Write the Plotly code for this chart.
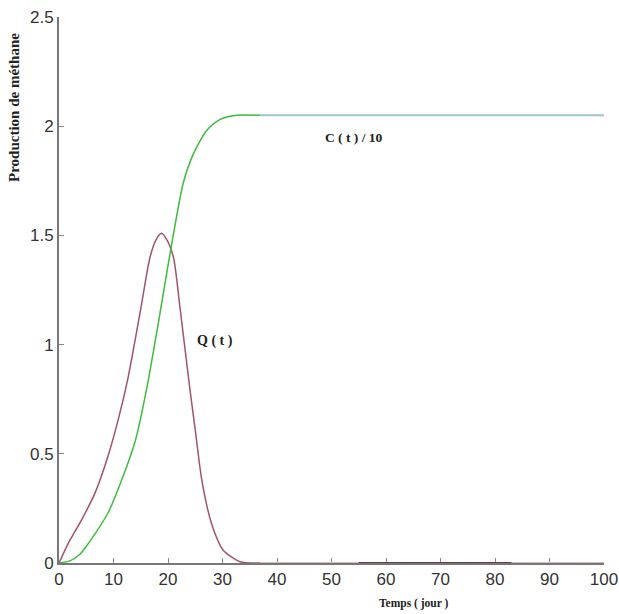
import plotly.graph_objects as go

# Q(t) — methane production rate
t_q = [0, 1.7, 4.2, 6.6, 9.0, 10.9, 12.6, 14.9, 16.7, 17.8, 18.8, 19.8, 21.0, 22.2,
       24.0, 25.0, 26.2, 28.0, 30.1, 33.2, 37]
q_vals = [0, 0.09, 0.20, 0.32, 0.49, 0.66, 0.84, 1.15, 1.40, 1.48, 1.51, 1.48, 1.40, 1.17,
          0.80, 0.61, 0.38, 0.18, 0.06, 0.006, 0.0]
# Q(t) continuation (flat at zero)
t_q_tail = [37, 100]
q_tail = [0, 0]
t_q_dark = [55, 83]
q_dark = [0, 0]

# C(t)/10 — cumulative production
t_c = [0, 2.0, 3.85, 5.4, 9.0, 11.5, 14.0, 16.1, 18.3, 20.4, 22.8, 24.6, 27.1, 29.5, 32.6, 37]
c_vals = [0, 0.01, 0.04, 0.09, 0.23, 0.38, 0.56, 0.80, 1.11, 1.42, 1.74, 1.87, 1.98, 2.03, 2.05, 2.05]
t_c_tail = [37, 100]
c_tail = [2.05, 2.05]

x_ticks = [0, 10, 20, 30, 40, 50, 60, 70, 80, 90, 100]
y_ticks = [0, 0.5, 1, 1.5, 2, 2.5]
y_tick_labels = ["0", "0.5", "1", "1.5", "2", "2.5"]

fig = go.Figure()
fig.add_trace(go.Scatter(x=t_q_tail, y=q_tail, mode="lines", line=dict(color="#d9b8bc", width=2),
                         cliponaxis=False, hoverinfo="skip"))
fig.add_trace(go.Scatter(x=t_q_dark, y=q_dark, mode="lines", line=dict(color="#6e3a44", width=2),
                         cliponaxis=False, hoverinfo="skip"))
fig.add_trace(go.Scatter(x=t_q, y=q_vals, mode="lines",
                         line=dict(color="#a05566", width=1.5, shape="spline", smoothing=0.7),
                         cliponaxis=False))
fig.add_trace(go.Scatter(x=t_c_tail, y=c_tail, mode="lines", line=dict(color="#9cc6cf", width=2),
                         cliponaxis=False))
fig.add_trace(go.Scatter(x=t_c, y=c_vals, mode="lines",
                         line=dict(color="#3fbb3f", width=1.5, shape="spline", smoothing=0.7),
                         cliponaxis=False))

serif = "Liberation Serif"
L, R, T, B = 59, 15, 17, 51
W, H = 619, 614
pw, ph = W - L - R, H - T - B

def px_to_paper(px, py):
    return (px - L) / pw, (H - B - py) / ph

fig.add_annotation(x=54.2, y=1.95, text="<b>C ( t ) / 10</b>", showarrow=False,
                   font=dict(family=serif, size=13.5, color="#222"), xanchor="center", yanchor="middle")
fig.add_annotation(x=28.6, y=1.017, text="<b>Q ( t )</b>", showarrow=False,
                   font=dict(family=serif, size=14, color="#222"), xanchor="center", yanchor="middle")
xt, yt = px_to_paper(413, 603)
fig.add_annotation(x=xt, y=yt, xref="paper", yref="paper", text="<b>Temps ( jour )</b>", showarrow=False,
                   font=dict(family=serif, size=11.5, color="#222"), xanchor="center", yanchor="middle")
xy, yy = px_to_paper(14, 108)
fig.add_annotation(x=xy, y=yy, xref="paper", yref="paper", text="<b>Production de méthane</b>",
                   showarrow=False, textangle=-90,
                   font=dict(family=serif, size=15, color="#222"), xanchor="center", yanchor="middle")

fig.update_layout(
    width=W, height=H,
    margin=dict(l=L, r=R, t=T, b=B, autoexpand=False),
    paper_bgcolor="white", plot_bgcolor="white",
    showlegend=False,
    font=dict(family="Liberation Sans", size=17, color="#333"),
    xaxis=dict(range=[0, 100], tickvals=x_ticks, ticks="inside", ticklen=5, tickcolor="#888",
               showline=True, linecolor="#777", linewidth=2, showgrid=False, zeroline=False,
               layer="below traces", automargin=False, tickfont=dict(size=17, color="#333")),
    yaxis=dict(range=[0, 2.5], tickvals=y_ticks, ticktext=y_tick_labels, ticks="inside", ticklen=5,
               tickcolor="#888", showline=True, linecolor="#777", linewidth=2, showgrid=False,
               zeroline=False, layer="below traces", automargin=False,
               tickfont=dict(size=17, color="#333")),
)

fig.write_html("out.html", config={"displayModeBar": False},
               post_script="document.body.style.margin='0';document.body.style.overflow='hidden';")
